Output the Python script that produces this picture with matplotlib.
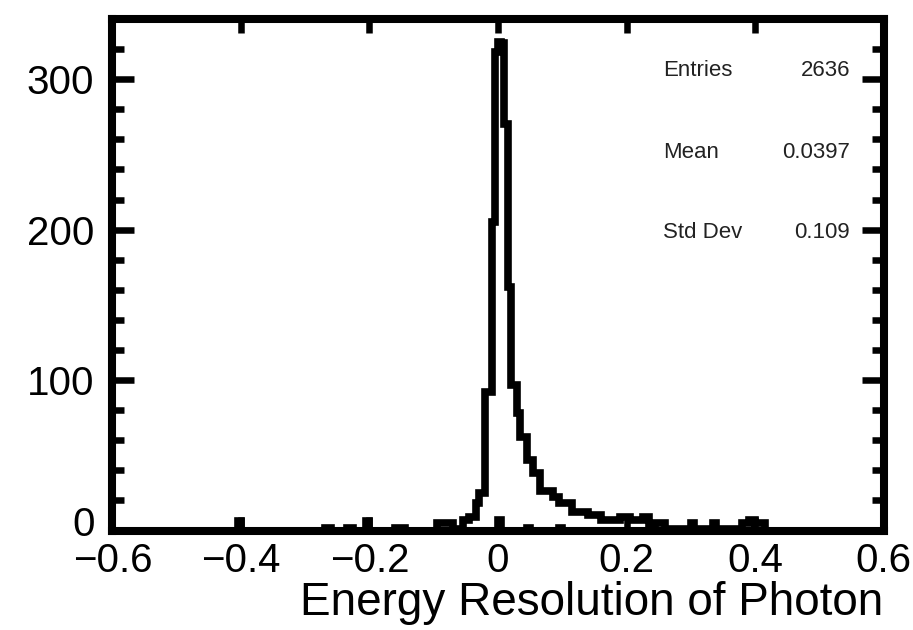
import matplotlib
matplotlib.use('Agg')
import matplotlib.pyplot as plt
import matplotlib.transforms as mtransforms
from matplotlib.ticker import MultipleLocator
import numpy as np

plt.rcParams['font.family'] = ['Liberation Sans', 'DejaVu Sans']

# binning: 240 bins of 0.005 between -0.6 and 0.6
x_lo, x_hi = -0.6, 0.6
n_bins = 240

# main histogram, counts per bin
main_counts = [
    0, 0, 0, 0, 0, 0, 0, 0, 0, 0, 0, 0, 0, 0, 0, 0, 0, 0, 0, 0,
    0, 0, 0, 0, 0, 0, 0, 0, 0, 0, 0, 0, 0, 0, 0, 0, 0, 0, 0, 6,
    0, 0, 0, 0, 0, 0, 0, 0, 0, 0, 0, 0, 0, 0, 0, 0, 0, 0, 0, 0,
    0, 0, 0, 0, 0, 0, 2, 2, 0, 0, 0, 0, 0, 2, 2, 0, 0, 0, 0, 6,
    0, 0, 0, 0, 0, 0, 0, 0, 2, 2, 2, 0, 0, 0, 0, 0, 0, 0, 0, 0,
    0, 5, 5, 5, 5, 5, 1, 1, 1, 7, 7, 9, 9, 18, 25, 25, 92, 92, 205, 318,
    325, 324, 270, 162, 97, 97, 78, 62, 62, 47, 47, 38, 38, 26, 26, 26, 26, 22, 22, 18,
    18, 18, 18, 12, 12, 12, 12, 12, 10, 10, 10, 10, 7, 7, 7, 7, 7, 7, 9, 9,
    9, 7, 7, 7, 7, 9, 9, 1, 1, 5, 5, 5, 1, 1, 1, 1, 1, 1, 1, 1,
    5, 1, 1, 1, 1, 1, 1, 5, 1, 1, 1, 1, 1, 1, 1, 1, 5, 5, 7, 7,
    5, 5, 5, 0, 0, 0, 0, 0, 0, 0, 0, 0, 0, 0, 0, 0, 0, 0, 0, 0,
    0, 0, 0, 0, 0, 0, 0, 0, 0, 0, 0, 0, 0, 0, 0, 0, 0, 0, 0, 0,
]

# second (small) histogram drawn on top
low_x = [0.0, 0.05, 0.1]
low_counts = [7, 2, 2]

stat_names = ["Entries", "Mean", "Std Dev"]
stat_values = ["2636", "0.0397", "0.109"]

edges = np.linspace(x_lo, x_hi, n_bins + 1)

fig = plt.figure(figsize=(9.13, 6.3), dpi=100)
ax = fig.add_axes([0.1232, 0.1579, 0.8445, 0.8119])

h = ax.stairs(main_counts, edges, color='black', lw=5.5, baseline=0)
h.set_joinstyle('miter')
low, _ = np.histogram(low_x, bins=edges, weights=low_counts)
h2 = ax.stairs(low, edges, color='black', lw=5.5, baseline=0)
h2.set_joinstyle('miter')

ax.set_xlim(x_lo, x_hi)
ax.set_ylim(0, 340)

for s in ax.spines.values():
    s.set_linewidth(5.8)
    s.set_color('black')

ax.yaxis.set_minor_locator(MultipleLocator(20))
ax.tick_params(axis='both', which='both', direction='in', top=True, right=True,
               colors='black', width=4.7)
ax.tick_params(axis='x', which='major', length=10, pad=8, labelsize=29)
ax.tick_params(axis='y', which='major', length=16, pad=13, labelsize=29)
ax.tick_params(axis='y', which='minor', length=8.5)

ax.set_xticks([-0.6, -0.4, -0.2, 0, 0.2, 0.4, 0.6])
ax.set_xticklabels(["\u22120.6", "\u22120.4", "\u22120.2", "0", "0.2", "0.4", "0.6"])
ax.set_yticks([0, 100, 200, 300])
ax.set_yticklabels(["0", "100", "200", "300"])

# the "0" on the y axis sits a little higher, clear of "-0.6"
zero_lab = ax.get_yticklabels()[0]
zero_lab.set_transform(zero_lab.get_transform() +
                       mtransforms.ScaledTranslation(0, 7 / 72, fig.dpi_scale_trans))

ax.set_xlabel("Energy Resolution of Photon", loc='right', fontsize=33, labelpad=1)

# stats box text
ys = [70, 153, 233]
for name, val, y in zip(stat_names, stat_values, ys):
    fig.text(663 / 913, 1 - y / 630, name, ha='left', va='center', fontsize=16,
             color='#222222')
    fig.text(850 / 913, 1 - y / 630, val, ha='right', va='center', fontsize=16,
             color='#222222')

fig.savefig('out.png', dpi=100)
